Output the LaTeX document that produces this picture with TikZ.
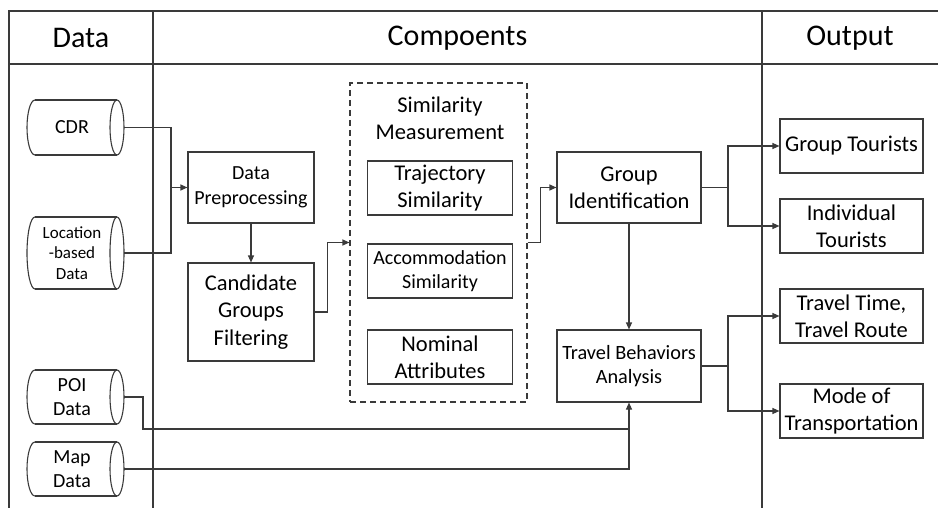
\documentclass[tikz,border=0pt]{standalone}
\usepackage{fontspec}
\setmainfont{Carlito}
\usetikzlibrary{arrows.meta}
\definecolor{ln}{HTML}{3A3A3A}
\newcommand\fs[2]{\fontsize{#1}{#2}\selectfont}
\tikzset{
  frame/.style={draw=ln, line width=1.2pt},
  conn/.style={draw=ln, line width=1.1pt},
  arr/.style={conn, -{Triangle[length=7pt,width=6pt]}},
  bx/.style={draw=ln, line width=1.1pt, align=center, inner sep=0pt},
  cyltxt/.style={align=center, inner sep=0pt},
  hdr/.style={font=\fontsize{30}{36}\selectfont}
}
\newcommand\mycyl[3]{% name, ytop, ybot
  \draw[conn] (35,#2) -- (117,#2) (35,#3) -- (117,#3);
  \draw[conn] (35,#2) arc[start angle=270,end angle=90,x radius=8,y radius={(#3-#2)/2}];
  \draw[conn] (117,{(#2+#3)/2}) ellipse[x radius=7,y radius={(#3-#2)/2}];
  \coordinate (#1-r) at (124,{(#2+#3)/2});
}
\begin{document}
\begin{tikzpicture}[x=1pt,y=-1pt]
\useasboundingbox (0,0) rectangle (938,508);
% frame
\draw[frame] (938,11) -- (9,11) -- (9,508);
\draw[frame] (9,64) -- (938,64);
\draw[frame] (153,11) -- (153,508);
\draw[frame] (762,11) -- (762,508);
\node[hdr] (hdata) at (81,38) {Data};
\node[hdr] (hcomp) at (457.5,38) {Compoents};
\node[hdr] (hout) at (850,38) {Output};
% data stores
\mycyl{cdr}{100}{155}
\node[cyltxt,font=\fs{20}{24.4}] (cdr) at (72,127.5) {CDR};
\mycyl{loc}{217}{289}
\node[cyltxt,font=\fs{17}{20.7}] (loc) at (72,253) {Location\\-based\\Data};
\mycyl{poi}{370}{424}
\node[cyltxt,font=\fs{20}{24.4}] (poi) at (72,397) {POI\\Data};
\mycyl{map}{442}{496}
\node[cyltxt,font=\fs{20}{24.4}] (map) at (72,469) {Map\\Data};
% components
\node[bx,font=\fs{20}{24.4},minimum width=126,minimum height=71] (dp) at (251,187.5) {Data\\Preprocessing};
\node[bx,font=\fs{22.5}{27.4},minimum width=126,minimum height=98] (cf) at (251,312) {Candidate\\Groups\\Filtering};
\node[draw=ln,line width=1.1pt,dash pattern=on 6pt off 4pt,minimum width=177,minimum height=319,inner sep=0pt] (sim) at (438.5,242.5) {};
\node[align=center,inner sep=0pt,font=\fs{22.5}{27.4}] (simt) at (440,118) {Similarity\\Measurement};
\node[bx,font=\fs{22.5}{27.4},minimum width=145,minimum height=54] (traj) at (440,188) {Trajectory\\Similarity};
\node[bx,font=\fs{20}{24.4},minimum width=145,minimum height=54] (acc) at (440,271) {Accommodation\\Similarity};
\node[bx,font=\fs{22.5}{27.4},minimum width=145,minimum height=54] (nom) at (440,357) {Nominal\\Attributes};
\node[bx,font=\fs{22.5}{27.4},minimum width=144,minimum height=71] (gi) at (629,187.5) {Group\\Identification};
\node[bx,font=\fs{20.3}{24.8},minimum width=144,minimum height=72] (tba) at (629,366) {Travel Behaviors\\Analysis};
% outputs
\node[bx,font=\fs{22.5}{27.4},minimum width=143,minimum height=54] (gt) at (851.5,146) {Group Tourists};
\node[bx,font=\fs{22.5}{27.4},minimum width=143,minimum height=54] (it) at (851.5,226) {Individual\\Tourists};
\node[bx,font=\fs{22.5}{27.4},minimum width=143,minimum height=54] (tt) at (851.5,316) {Travel Time,\\Travel Route};
\node[bx,font=\fs{22.5}{27.4},minimum width=143,minimum height=54] (mt) at (851.5,411) {Mode of\\Transportation};
% connectors
\coordinate (j1) at (171,187.5);
\draw[conn] (cdr-r) -| (j1);
\draw[conn] (loc-r) -| (j1);
\draw[arr] (j1) -- (dp.west);
\draw[arr] (dp.south) -- (cf.north);
\draw[arr] (cf.east) -- ++(13,0) |- (sim.west);
\draw[arr] (sim.east) -- ++(13,0) |- (gi.west);
\coordinate (j2) at (728,187.5);
\draw[conn] (gi.east) -- (j2);
\draw[arr] (j2) |- (gt.west);
\draw[arr] (j2) |- (it.west);
\draw[arr] (gi.south) -- (tba.north);
\coordinate (j3) at (728,366);
\draw[conn] (tba.east) -- (j3);
\draw[arr] (j3) |- (tt.west);
\draw[arr] (j3) |- (mt.west);
\coordinate (j4) at (143,429);
\draw[conn] (poi-r) -| (j4) -- (tba.south |- j4);
\draw[arr] (map-r) -| (tba.south);
\end{tikzpicture}
\end{document}
